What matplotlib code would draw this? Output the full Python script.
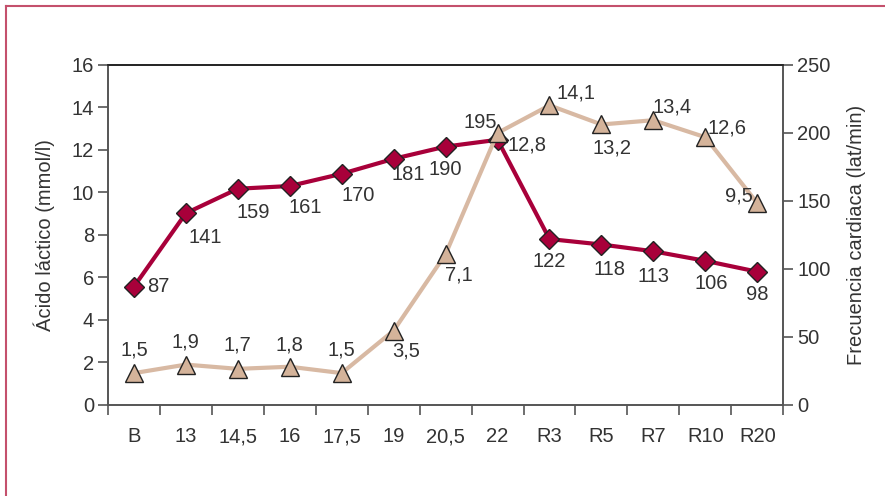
import matplotlib.pyplot as plt
from matplotlib.lines import Line2D

plt.rcParams['font.family'] = ['Liberation Sans', 'DejaVu Sans']

# data
categories = ['B', '13', '14,5', '16', '17,5', '19', '20,5', '22', 'R3', 'R5', 'R7', 'R10', 'R20']
frecuencia = [87, 141, 159, 161, 170, 181, 190, 195, 122, 118, 113, 106, 98]
lactico = [1.5, 1.9, 1.7, 1.8, 1.5, 3.5, 7.1, 12.8, 14.1, 13.2, 13.4, 12.6, 9.5]
lactico_txt = ['1,5', '1,9', '1,7', '1,8', '1,5', '3,5', '7,1', '12,8', '14,1', '13,2', '13,4', '12,6', '9,5']

off_fc = [(24, 0), (19, -24), (15, -24), (15, -21), (16, -22), (15, -16), (0, -23),
          (-17, 17), (0, -22), (8, -25), (0, -25), (6, -23), (0, -23)]
off_la = [(0, 23), (0, 23), (0, 24), (0, 22), (0, 23), (12, -20), (13, -21),
          (29, -12), (27, 12), (11, -24), (19, 13), (22, 9), (-18, 7)]

red = '#a8003a'
tan = '#d8b9a3'
txt = '#333333'
fs = 14.5

fig = plt.figure(figsize=(8.85, 4.96), dpi=100)
ax = fig.add_axes([0.122, 0.1835, 0.763, 0.6855])
ax2 = ax.twinx()
ax.set_zorder(2)
ax.patch.set_visible(False)

x = [i + 0.5 for i in range(len(categories))]

ax2.plot(x, frecuencia, color=red, lw=3, marker='D', ms=10, mfc=red, mec='#222222', mew=1, zorder=3)
ax.plot(x, lactico, color=tan, lw=3, marker='^', ms=13, mfc='#d4b39a', mec='#222222', mew=1, zorder=3)

pt = 0.72
for xi, v, (dx, dy) in zip(x, frecuencia, off_fc):
    ax2.annotate(str(v), (xi, v), xytext=(dx * pt, dy * pt), textcoords='offset points',
                 ha='center', va='center', fontsize=fs, color=txt)
for xi, v, s, (dx, dy) in zip(x, lactico, lactico_txt, off_la):
    ax.annotate(s, (xi, v), xytext=(dx * pt, dy * pt), textcoords='offset points',
                ha='center', va='center', fontsize=fs, color=txt)

ax.set_xlim(0, len(categories))
ax.set_ylim(0, 16)
ax2.set_ylim(0, 250)
ax.set_yticks(range(0, 17, 2))
ax2.set_yticks(range(0, 251, 50))
ax.set_xticks(range(0, len(categories) + 1))
ax.set_xticklabels([])
ax.set_xticks(x, minor=True)
ax.set_xticklabels(categories, minor=True)
ax.tick_params(axis='x', which='minor', length=0, pad=16, labelsize=fs, labelcolor=txt)
ax.tick_params(axis='x', which='major', length=7, width=1.2, color='#555555')
ax.tick_params(axis='y', length=7, width=1.2, color='#555555', labelsize=fs, labelcolor=txt, pad=3)
ax2.tick_params(axis='y', length=7, width=1.2, color='#555555', labelsize=fs, labelcolor=txt, pad=3)

for a in (ax, ax2):
    for s in a.spines.values():
        s.set_color('#555555')
        s.set_linewidth(1.2)
    a.spines['top'].set_color('#222222')

ax.set_ylabel('Ácido láctico (mmol/l)', fontsize=fs, color=txt, labelpad=12)
ax2.set_ylabel('Frecuencia cardiaca (lat/min)', fontsize=fs, color=txt, labelpad=12)

# pink frame (top and left edges)
fig.add_artist(Line2D([6 / 885, 6 / 885], [0, 1 - 6 / 496], transform=fig.transFigure, color='#c4506c', lw=1.5))
fig.add_artist(Line2D([6 / 885, 1], [1 - 6 / 496, 1 - 6 / 496], transform=fig.transFigure, color='#c4506c', lw=1.5))

fig.savefig('out.png', dpi=100)
